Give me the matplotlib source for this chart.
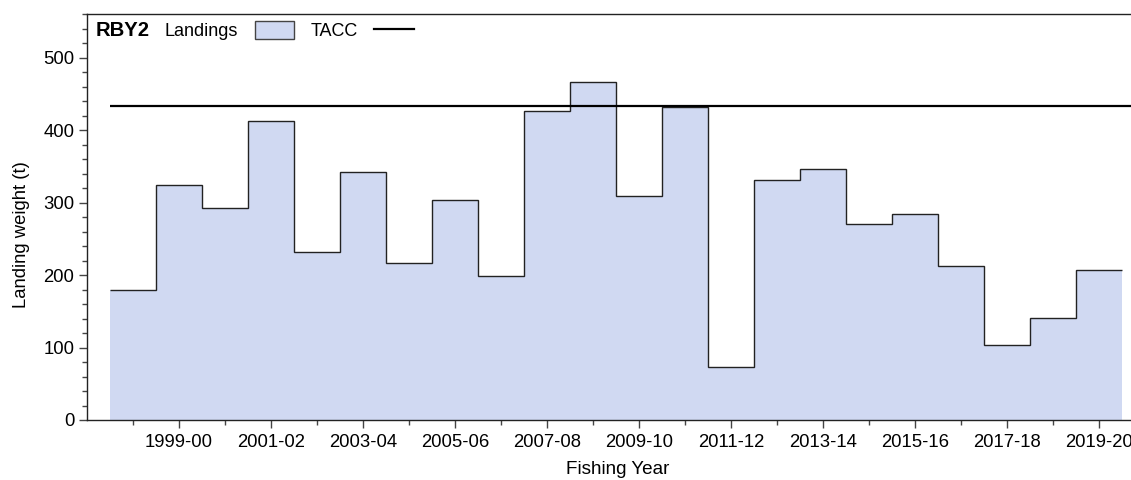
import numpy as np
import matplotlib
matplotlib.use("Agg")
import matplotlib.pyplot as plt
from matplotlib.patches import Patch
from matplotlib.lines import Line2D

plt.rcParams["font.family"] = ["Liberation Sans", "DejaVu Sans"]

# ---- data
years = [
    "1998-99", "1999-00", "2000-01", "2001-02", "2002-03", "2003-04",
    "2004-05", "2005-06", "2006-07", "2007-08", "2008-09", "2009-10",
    "2010-11", "2011-12", "2012-13", "2013-14", "2014-15", "2015-16",
    "2016-17", "2017-18", "2018-19", "2019-20",
]
landings = [
    180, 325, 292, 413, 232, 342, 217, 303, 199, 426, 466, 309,
    432, 73, 331, 347, 270, 284, 212, 103, 141, 207,
]
tacc = [433] * len(years)

fill_col = "#d0d9f2"

fig = plt.figure(figsize=(11.31, 4.8), dpi=100)
ax = fig.add_axes([87 / 1131, 60 / 480, 1 - 87 / 1131, 405.7 / 480])

pos = np.arange(len(years))
edges = np.append(pos - 0.5, pos[-1] + 0.5)

# ---- landings: filled steps + outline on top only
ax.stairs(landings, edges, fill=True, baseline=0, color=fill_col, lw=0)
ax.stairs(landings, edges, baseline=None, color="#222222", lw=1.0)

# ---- TACC line
tacc_edges = np.append(edges[:-1], pos[-1] + 2)
ax.stairs(tacc, tacc_edges, baseline=None, color="black", lw=1.6)

ax.set_xlim(-1, 21.7)
ax.set_ylim(0, 560)

ax.set_xticks(pos[1::2])
ax.set_xticklabels(years[1::2], fontsize=13.3)
ax.set_xticks(pos, minor=True)
ax.set_yticks(np.arange(0, 501, 100))
ax.set_yticks(np.arange(0, 561, 20), minor=True)
ax.tick_params(axis="y", labelsize=13.3, pad=3)
ax.tick_params(which="major", length=6, width=1, color="#444444")
ax.tick_params(which="minor", length=3.5, width=1, color="#444444")
ax.tick_params(axis="x", which="major", pad=4)

for side in ["left", "bottom", "top"]:
    ax.spines[side].set_color("#222222")
    ax.spines[side].set_linewidth(1.0)
ax.spines["right"].set_visible(False)

ax.set_xlabel("Fishing Year", fontsize=13.6)
ax.xaxis.set_label_coords(0.508, -0.102)
ax.set_ylabel("Landing weight (t)", fontsize=13.3)
ax.yaxis.set_label_coords(-0.055, 0.457)

# ---- legend
ax.text(0.008, 0.959, "RBY2", transform=ax.transAxes, fontsize=14.6,
        fontweight="bold", va="center", ha="left")
handles = [
    Patch(facecolor=fill_col, edgecolor="#444444", lw=1.0),
    Line2D([0], [0], color="black", lw=1.6),
]
ax.legend(handles, ["Landings", "TACC"], ncol=2, markerfirst=False,
          loc="center left", bbox_to_anchor=(0.0747, 0.959), frameon=False,
          fontsize=13, handlelength=2.2, handleheight=1.15, handletextpad=0.9,
          columnspacing=0.9, borderpad=0, borderaxespad=0)

fig.savefig("out.png", dpi=100)
